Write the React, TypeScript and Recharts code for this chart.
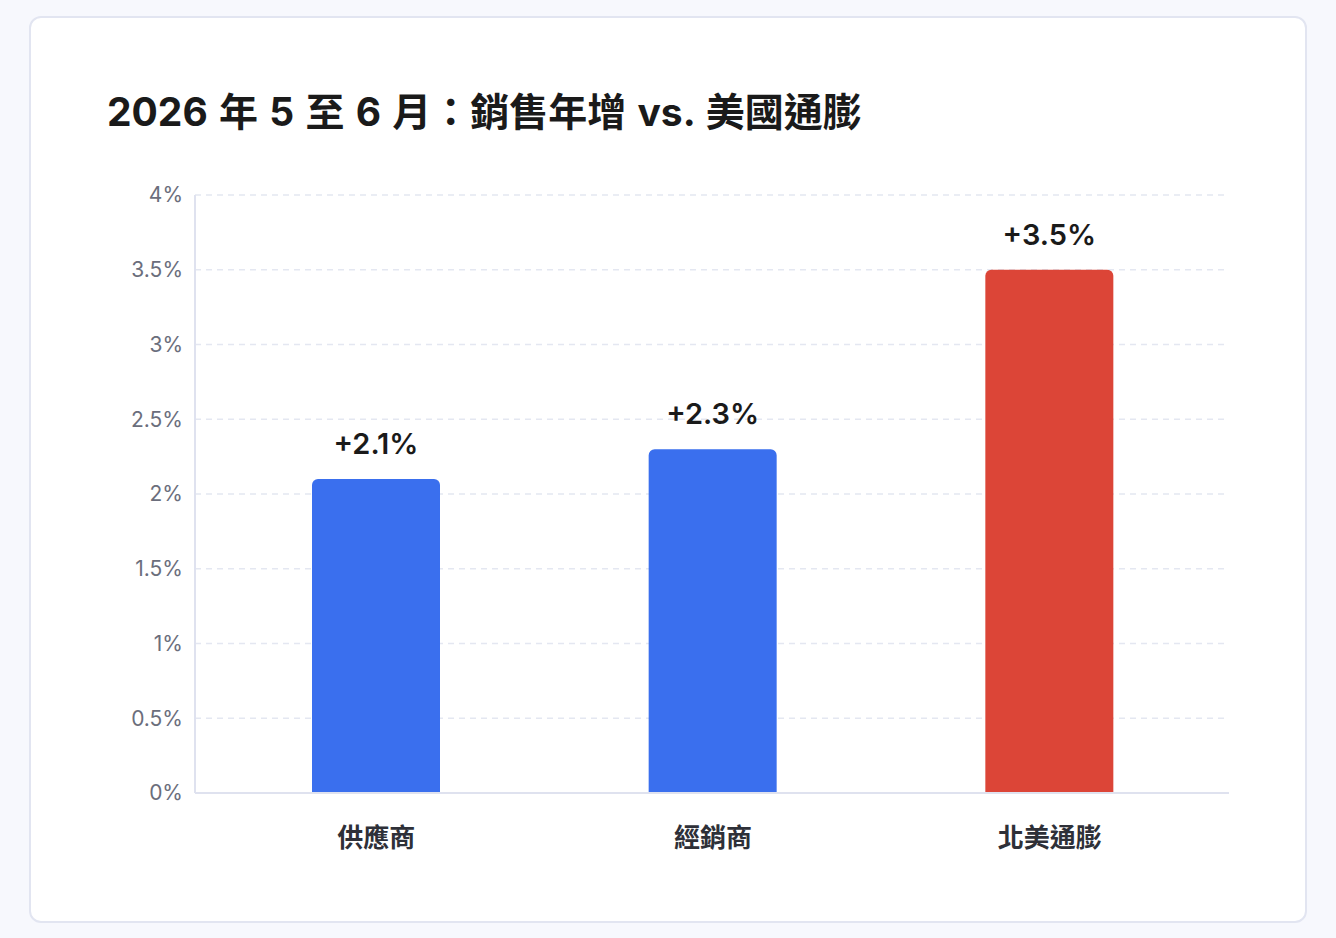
import React from 'react';
import { BarChart, Bar, XAxis, YAxis, CartesianGrid, Cell, LabelList } from 'recharts';

// 類別、數值與刻度
const categories = ['供應商', '經銷商', '北美通膨'];
const growthValues = [2.1, 2.3, 3.5];
const barColors = ['#3a6fee', '#3a6fee', '#dc4537'];
const yTicks = [0, 0.5, 1, 1.5, 2, 2.5, 3, 3.5, 4];

const data = categories.map((name, i) => ({ name, value: growthValues[i], color: barColors[i] }));

const FONT = 'Inter, "Noto Sans CJK TC", sans-serif';

export default function App() {
  return (
    <div
      style={{
        position: 'absolute',
        left: 0,
        top: 0,
        width: 1336,
        height: 938,
        background: '#f7f8fd',
        fontFamily: FONT,
      }}
    >
      <div
        style={{
          position: 'absolute',
          left: 29,
          top: 16,
          width: 1274,
          height: 903,
          background: '#fff',
          border: '2px solid #e2e5f1',
          borderRadius: 12,
        }}
      />
      <div
        style={{
          position: 'absolute',
          left: 107,
          top: 86,
          fontSize: 39,
          fontWeight: 700,
          color: '#1a1a1a',
          whiteSpace: 'nowrap',
          wordSpacing: 2,
          lineHeight: '52px',
        }}
      >
        2026 年 5 至 6 月：銷售年增 vs. 美國通膨
      </div>
      <div style={{ position: 'absolute', left: 100, top: 150 }}>
        <BarChart
          width={1160}
          height={740}
          data={data}
          margin={{ top: 45, right: 31, left: 15, bottom: 37 }}
        >
          <CartesianGrid stroke="#e4e7f1" strokeDasharray="6 5" strokeWidth={1.5} vertical={false} />
          <XAxis
            dataKey="name"
            padding={{ left: 13, right: 11 }}
            height={60}
            axisLine={{ stroke: '#dfe2ef', strokeWidth: 2 }}
            tickLine={false}
            tickSize={6}
            tickMargin={30}
            tick={{ fontSize: 26, fontWeight: 600, fill: '#2e3038', fontFamily: FONT }}
          />
          <YAxis
            domain={[0, 4]}
            ticks={yTicks}
            width={80}
            interval={0}
            axisLine={{ stroke: '#dfe2ef', strokeWidth: 2 }}
            tickLine={false}
            tickSize={6}
            tickMargin={6}
            tickFormatter={(v) => `${v}%`}
            tick={{ fontSize: 21, fill: '#6b6e7c', fontFamily: FONT }}
          />
          <Bar dataKey="value" barSize={128} radius={[6, 6, 0, 0]} isAnimationActive={false}>
            {data.map((d) => (
              <Cell key={d.name} fill={d.color} />
            ))}
            <LabelList
              dataKey="value"
              position="top"
              offset={25}
              formatter={(v: number) => `+${Number(v).toFixed(1)}%`}
              style={{ fontSize: 29, fontWeight: 600, fill: '#1a1a1a', fontFamily: FONT }}
            />
          </Bar>
        </BarChart>
      </div>
    </div>
  );
}
